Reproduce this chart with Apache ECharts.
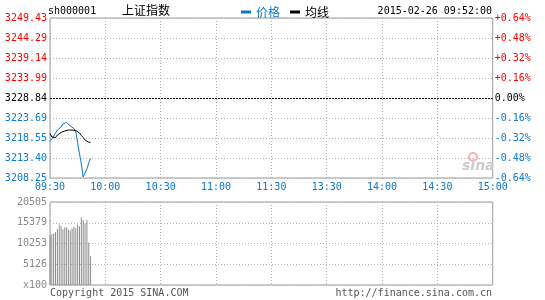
<!DOCTYPE html>
<html><head><meta charset="utf-8">
<script src="https://cdn.jsdelivr.net/npm/echarts@6/dist/echarts.min.js"></script>
<style>html,body{margin:0;padding:0;background:#fff}#c{width:545px;height:300px}</style>
</head><body><div id="c"></div>
<script>
var times = ['09:30','09:31','09:32','09:33','09:34','09:35','09:36','09:37','09:38','09:39','09:40','09:41','09:42','09:43','09:44','09:45','09:46','09:47','09:48','09:49','09:50','09:51','09:52'];
var price = [3217.64,3218.29,3218.80,3219.83,3220.60,3220.86,3221.38,3222.15,3222.66,3222.53,3222.02,3221.63,3221.38,3220.99,3220.09,3217.26,3214.43,3211.85,3208.51,3209.02,3210.57,3212.11,3213.27];
var avgLine = [3219.70,3218.80,3218.55,3218.67,3219.32,3219.70,3219.96,3220.09,3220.35,3220.48,3220.60,3220.60,3220.60,3220.60,3220.48,3220.09,3219.83,3219.19,3218.67,3218.03,3217.64,3217.44,3217.44];
var volume = [12300,12550,12710,13120,13860,14920,14600,13780,14270,14270,13690,13450,13940,14430,14100,14920,14430,16730,15990,15170,16070,10500,7130];
var prevClose = 3228.84;
var priceStep = 5.1475;
var priceLabels = ['3208.25','3213.40','3218.55','3223.69','3228.84','3233.99','3239.14','3244.29','3249.43'];
var pctLabels = ['-0.64%','-0.48%','-0.32%','-0.16%','0.00%','+0.16%','+0.32%','+0.48%','+0.64%'];
var timeLabels = ['09:30','10:00','10:30','11:00','11:30','13:30','14:00','14:30','15:00'];
var volMax = 20505;
var volLabels = ['x100','5126','10253','15379','20505'];

var RED = '#ff0000', BLUE = '#0a78cc', BLACK = '#000000', GRAY = '#999999';
var MONO = '"DejaVu Sans Mono", "Liberation Mono", monospace';
var CJK = '"Noto Sans CJK SC", sans-serif';

function toMin(t) { var p = t.split(':'); return (+p[0]) * 60 + (+p[1]) - 570; }
var range = priceStep * 4;
function idxOf(v) { return Math.round((v + range) / priceStep); }
function lvlColor(v) { var i = idxOf(v); return i > 4 ? RED : (i < 4 ? BLUE : BLACK); }

var dotted = { color: '#b4b4b4', width: 1, type: [1, 2] };

var chart = echarts.init(document.getElementById('c'), null, { renderer: 'canvas' });
chart.setOption({
  animation: false,
  backgroundColor: '#fff',
  textStyle: { fontFamily: MONO },
  legend: {
    left: 236, top: 1, itemWidth: 10, itemHeight: 3, itemGap: 10, icon: 'rect',
    textStyle: { fontFamily: CJK, fontSize: 12 },
    data: [
      { name: '价格', textStyle: { color: BLUE } },
      { name: '均线', textStyle: { color: BLACK } }
    ]
  },
  grid: [
    { left: 50, top: 18, width: 442.7, height: 160, show: true, borderColor: GRAY, borderWidth: 1 },
    { left: 50, top: 202, width: 442.7, height: 83, show: true, borderColor: GRAY, borderWidth: 1 }
  ],
  xAxis: [
    { type: 'value', gridIndex: 0, min: 0, max: 240, interval: 30,
      axisLine: { show: false }, axisTick: { show: false },
      splitLine: { show: true, lineStyle: dotted },
      axisLabel: { color: BLUE, fontFamily: MONO, fontSize: 10, margin: 4,
        formatter: function (v) { return timeLabels[Math.round(v / 30)]; } } },
    { type: 'value', gridIndex: 1, min: 0, max: 240, interval: 30,
      axisLine: { show: false }, axisTick: { show: false },
      splitLine: { show: true, lineStyle: dotted },
      axisLabel: { show: false } }
  ],
  yAxis: [
    { type: 'value', gridIndex: 0, min: -range, max: range, interval: priceStep,
      axisLine: { show: false }, axisTick: { show: false },
      splitLine: { show: true, lineStyle: dotted },
      axisLabel: { fontFamily: MONO, fontSize: 10, margin: 3,
        color: function (v) { return lvlColor(+v); },
        formatter: function (v) { return priceLabels[idxOf(v)]; } } },
    { type: 'value', gridIndex: 0, position: 'right', min: -range, max: range, interval: priceStep,
      axisLine: { show: false }, axisTick: { show: false }, splitLine: { show: false },
      axisLabel: { fontFamily: MONO, fontSize: 10, margin: 2,
        color: function (v) { return lvlColor(+v); },
        formatter: function (v) { return pctLabels[idxOf(v)]; } } },
    { type: 'value', gridIndex: 1, min: 0, max: volMax, interval: volMax / 4,
      axisLine: { show: false }, axisTick: { show: false },
      splitLine: { show: true, lineStyle: dotted },
      axisLabel: { color: '#888888', fontFamily: MONO, fontSize: 10, margin: 3,
        formatter: function (v) { return volLabels[Math.round(v / (volMax / 4))]; } } }
  ],
  series: [
    { name: '价格', type: 'line', xAxisIndex: 0, yAxisIndex: 0, showSymbol: false, symbol: 'none',
      color: BLUE, lineStyle: { color: BLUE, width: 1 },
      data: times.map(function (t, i) { return [toMin(t), price[i] - prevClose]; }),
      markLine: { silent: true, symbol: 'none', label: { show: false },
        lineStyle: { color: BLACK, width: 1, type: [2, 1] },
        data: [{ yAxis: 0 }] } },
    { name: '均线', type: 'line', xAxisIndex: 0, yAxisIndex: 0, showSymbol: false, symbol: 'none',
      color: BLACK, lineStyle: { color: BLACK, width: 1 },
      data: times.map(function (t, i) { return [toMin(t), avgLine[i] - prevClose]; }) },
    { name: 'vol', type: 'bar', xAxisIndex: 1, yAxisIndex: 2, barWidth: 1,
      itemStyle: { color: '#8c8c8c' },
      data: times.map(function (t, i) { return [toMin(t), volume[i]]; }) }
  ],
  graphic: [
    { type: 'text', left: 48, top: 6, style: { text: 'sh000001', fill: '#000', font: '10px ' + MONO } },
    { type: 'text', left: 122, top: 4, style: { text: '上证指数', fill: '#000', font: '12px ' + CJK } },
    { type: 'text', right: 53, top: 6, style: { text: '2015-02-26 09:52:00', fill: '#000', font: '10px ' + MONO } },
    { type: 'text', left: 50, top: 288, style: { text: 'Copyright 2015 SINA.COM', fill: '#555', font: '10px ' + MONO } },
    { type: 'text', right: 53, top: 288, style: { text: 'http://finance.sina.com.cn', fill: '#555', font: '10px ' + MONO } },
    { type: 'circle', shape: { cx: 473, cy: 157, r: 4 }, style: { fill: 'none', stroke: '#f5b0b0', lineWidth: 2 }, z: 1 },
    { type: 'text', left: 462, top: 159, z: 1, style: { text: 'sina', fill: '#cccccc', font: 'italic bold 14px "DejaVu Sans", sans-serif' } }
  ]
});
</script></body></html>
